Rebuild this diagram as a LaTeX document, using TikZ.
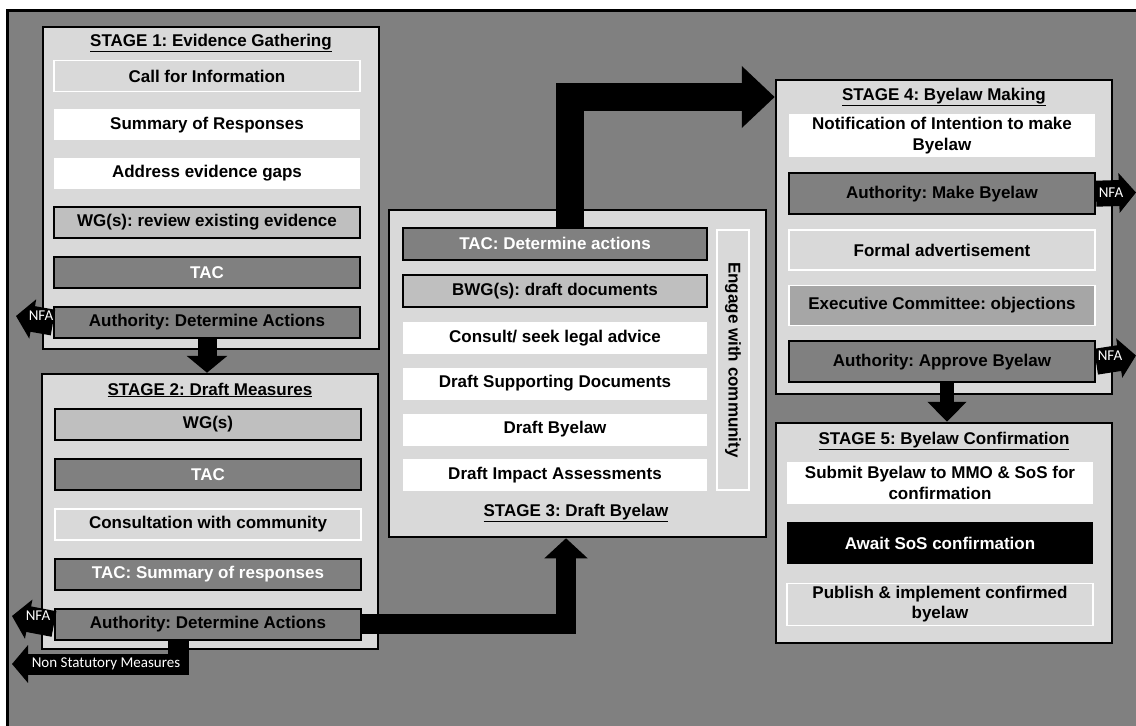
\documentclass[tikz,border=0pt]{standalone}
\usepackage{fontspec}
\setmainfont{Liberation Sans}
\newfontfamily\lblfont{Carlito}
\frenchspacing
\usetikzlibrary{positioning,arrows.meta}
\definecolor{lgray}{HTML}{D9D9D9}
\definecolor{mgray}{HTML}{BFBFBF}
\definecolor{dgray}{HTML}{808080}
\definecolor{egray}{HTML}{A6A6A6}
\tikzset{basic/.style={rectangle,inner sep=0pt,minimum width=306pt,minimum height=31pt,font=\fontsize{17}{20.4}\selectfont\bfseries,align=center}}
\tikzset{whitebox/.style={basic,fill=white}}
\tikzset{palebox/.style={basic,fill=lgray,draw=white,line width=1.5pt}}
\tikzset{wgbox/.style={basic,fill=mgray,draw=black,line width=2pt}}
\tikzset{tacbox/.style={basic,fill=dgray,draw=black,line width=2pt,text=white}}
\tikzset{authbox/.style={basic,fill=dgray,draw=black,line width=2pt}}
\tikzset{execbox/.style={basic,fill=egray,draw=white,line width=1.5pt}}
\tikzset{blackbox/.style={basic,fill=black,text=white}}
\tikzset{stagebox/.style={rectangle,draw=black,line width=2.5pt,fill=lgray}}
\tikzset{stagetitle/.style={font=\fontsize{17}{20.4}\selectfont\bfseries,inner sep=0pt}}
\tikzset{bigarrow/.style={line width=19pt,-{Triangle[length=17pt,width=40pt]}}}
\tikzset{nfa/.style={line width=26pt,-{Triangle[length=17pt,width=39pt]}}}
\tikzset{lbl/.style={font=\lblfont\fontsize{15}{18}\selectfont,text=white,inner sep=0pt}}

\begin{document}
\begin{tikzpicture}[x=1pt,y=-1pt]
    \useasboundingbox (0,0) rectangle (1136,726);
    \draw[line width=3pt,fill=dgray] (7,10) rectangle (1150,740);
    % stage 1
    \node[stagebox,minimum width=336pt,minimum height=322pt] (st1) at (211,188) {};
    \node[stagetitle] (t1) at (211,43) {\underline{STAGE 1: Evidence Gathering}};
    \node[palebox] (c1) at (207,76) {Call for Information};
    \node[whitebox,below=17pt of c1] (c2) {Summary of Responses};
    \node[whitebox,below=17pt of c2] (c3) {Address evidence gaps};
    \node[wgbox,below=17pt of c3] (c4) {WG(s): review existing evidence};
    \node[tacbox,below=17pt of c4] (c5) {TAC};
    \node[authbox,below=17pt of c5] (c6) {Authority: Determine Actions};
    % stage 2
    \node[stagebox,minimum width=336pt,minimum height=275pt] (st2) at (210,511.5) {};
    \node[stagetitle] (t2) at (210,390) {\underline{STAGE 2: Draft Measures}};
    \node[wgbox] (w1) at (208,424.5) {WG(s)};
    \node[tacbox,below=17pt of w1] (w2) {TAC};
    \node[palebox,below=17pt of w2] (w3) {Consultation with community};
    \node[tacbox,below=17pt of w3] (w4) {TAC: Summary of responses};
    \node[authbox,below=17pt of w4] (w5) {Authority: Determine Actions};
    % stage 3
    \node[stagebox,minimum width=377pt,minimum height=327pt] (st3) at (577.5,373.5) {};
    \node[stagetitle] (t3) at (576,513) {\underline{STAGE 3: Draft Byelaw}};
    \node[tacbox,minimum width=304pt,minimum height=32pt] (d1) at (555,243.5) {TAC: Determine actions};
    \node[wgbox,minimum width=304pt,minimum height=32pt,below=13.5pt of d1] (d2) {BWG(s): draft documents};
    \node[whitebox,minimum width=304pt,minimum height=32pt,below=13.5pt of d2] (d3) {Consult/ seek legal advice};
    \node[whitebox,minimum width=304pt,minimum height=32pt,below=13.5pt of d3] (d4) {Draft Supporting Documents};
    \node[whitebox,minimum width=304pt,minimum height=32pt,below=13.5pt of d4] (d5) {Draft Byelaw};
    \node[whitebox,minimum width=304pt,minimum height=32pt,below=13.5pt of d5] (d6) {Draft Impact Assessments};
    \node[palebox,rotate=-90,minimum width=260pt,minimum height=32pt] (eng) at (733,360) {Engage with community};
    % stage 4
    \node[stagebox,minimum width=336pt,minimum height=314pt] (st4) at (944,237) {};
    \node[stagetitle] (t4) at (944,97) {\underline{STAGE 4: Byelaw Making}};
    \node[whitebox,minimum height=43pt] (m1) at (942,135.5) {Notification of Intention to make\\Byelaw};
    \node[authbox,minimum height=41pt,below=15pt of m1] (m2) {Authority: Make Byelaw};
    \node[palebox,minimum height=40pt,below=14pt of m2] (m3) {Formal advertisement};
    \node[execbox,minimum height=40pt,below=14pt of m3] (m4) {Executive Committee: objections};
    \node[authbox,minimum height=41pt,below=14pt of m4] (m5) {Authority: Approve Byelaw};
    % stage 5
    \node[stagebox,minimum width=336pt,minimum height=220pt] (st5) at (944,533) {};
    \node[stagetitle] (t5) at (944,441) {\underline{STAGE 5: Byelaw Confirmation}};
    \node[whitebox,minimum height=42pt] (s1) at (940,483) {Submit Byelaw to MMO \& SoS for\\confirmation};
    \node[blackbox,minimum height=42pt,below=18pt of s1] (s2) {Await SoS confirmation};
    \node[palebox,minimum height=42pt,below=18pt of s2] (s3) {Publish \& implement confirmed\\byelaw};
    % arrows between stages
    \draw[bigarrow] (c6.south) -- (c6.south |- st2.north);
    \draw[bigarrow,line width=20pt,-{Triangle[length=20pt,width=42pt]}] (w5.east) -| ([xshift=-11.5pt]st3.south);
    \draw[bigarrow,line width=28pt,-{Triangle[length=33pt,width=60pt]}] ([xshift=15pt]d1.north) |- (st4.west |- t4);
    \draw[bigarrow,line width=14pt,-{Triangle[length=20pt,width=38pt]}] ([xshift=5pt]m5.south) -- ([xshift=5pt]m5.south |- st5.north);
    % no further action
    \coordinate (nfa1) at (16,316);
    \coordinate (nfa2) at (12,616);
    \coordinate (nfa3) at (1136,192.5);
    \coordinate (nfa4) at (1136,355.5);
    \draw[nfa] (c6.west) -- (nfa1);
    \draw[nfa] (w5.west) -- (nfa2);
    \draw[nfa] (m2.east) -- (nfa3);
    \draw[nfa] (m5.east) -- (nfa4);
    \node[lbl] (l1) at (41,316) {NFA};
    \node[lbl] (l2) at (38,616) {NFA};
    \node[lbl] (l3) at (1111,192.5) {NFA};
    \node[lbl] (l4) at (1110,355.5) {NFA};
    % non statutory
    \coordinate (nsm) at (12,664);
    \draw[line width=21pt,-{Triangle[length=16pt,width=37pt]}] ([xshift=-30pt]w5.south) |- (nsm);
    \node[lbl] (l5) at (106,664) {Non Statutory Measures};
\end{tikzpicture}
\end{document}
